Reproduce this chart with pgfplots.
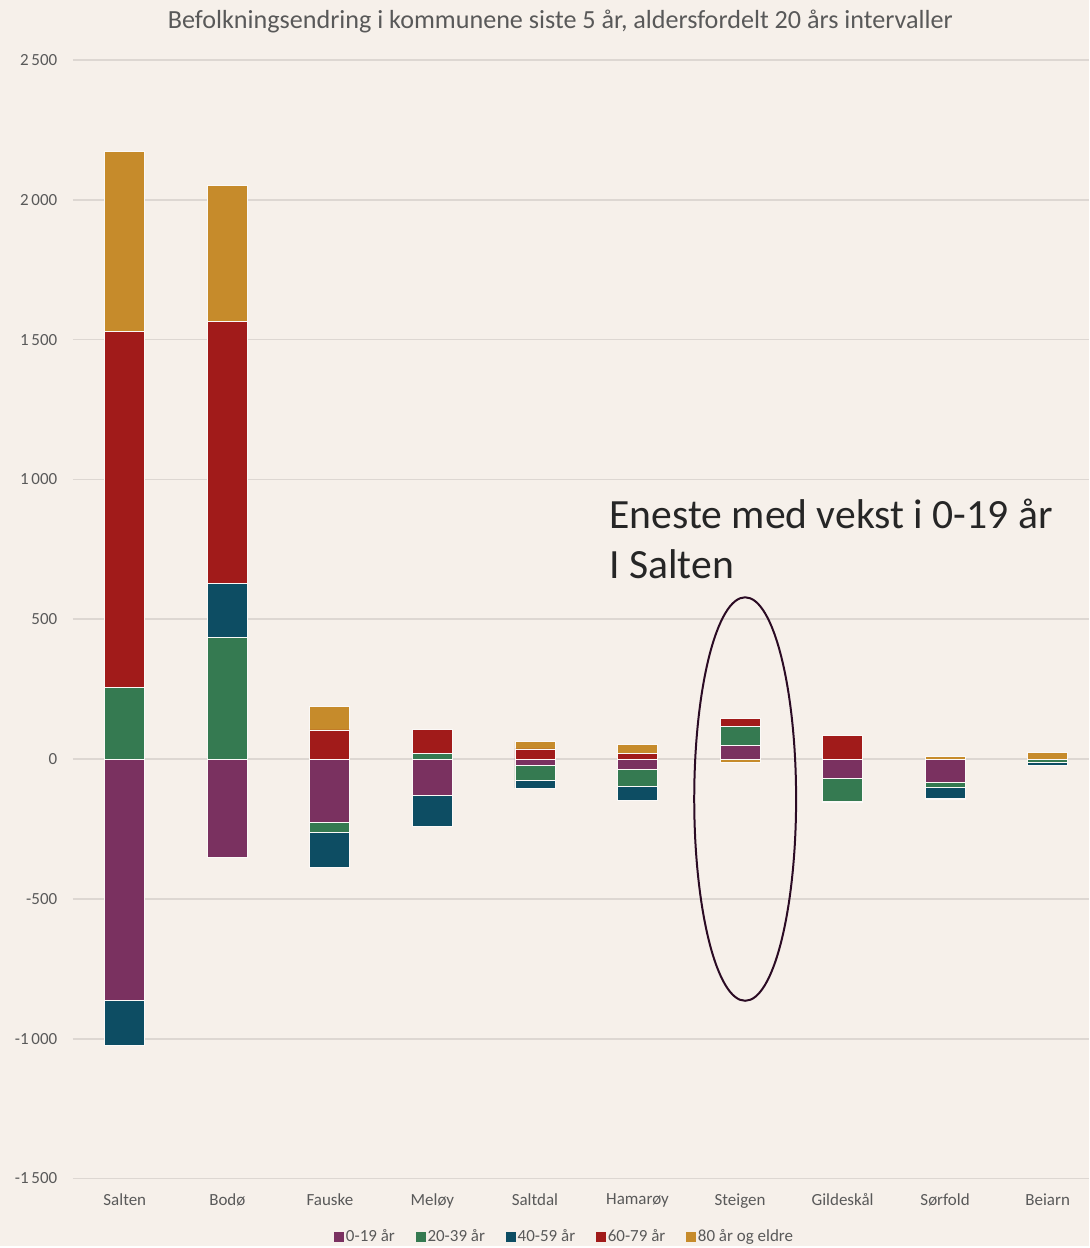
\documentclass[border=0pt]{standalone}
\usepackage{pgfplots}
\pgfplotsset{compat=1.18}
\usepackage{pgfplotstable}
\usepackage{fontspec}
\setmainfont{Carlito}
\usetikzlibrary{backgrounds}
\definecolor{bg}{HTML}{F6F0EA}
\definecolor{gridc}{HTML}{DDD7D2}
\definecolor{txt}{HTML}{595959}
\definecolor{cA}{HTML}{7A3160}
\definecolor{cB}{HTML}{357A51}
\definecolor{cC}{HTML}{0D4D63}
\definecolor{cD}{HTML}{A11B1A}
\definecolor{cE}{HTML}{C68B2B}
\definecolor{ell}{HTML}{2B0B24}

% positive parts (stacked upward)
\pgfplotstableread{
x a b c d e
0 0 257 0 1272 642
1 0 436 193 935 486
2 0 0 0 104 85
3 0 20 0 87 0
4 0 0 0 36 27
5 0 0 0 20 32
6 50 65 0 30 0
7 0 0 0 83 0
8 0 0 0 0 9
9 0 0 0 0 22
}\postab
% negative parts (stacked downward)
\pgfplotstableread{
x a b c d e
0 -864 0 -161 0 0
1 -350 0 0 0 0
2 -225 -36 -128 0 0
3 -129 0 -111 0 0
4 -24 -53 -27 0 0
5 -36 -62 -51 0 0
6 0 0 0 0 -12
7 -68 -83 0 0 -5
8 -83 -17 -39 -5 0
9 0 -12 -12 0 0
}\negtab

\pgfplotsset{
  base/.style={
    at={(0,0)}, anchor=south west,
    scale only axis, width=305.1pt, height=336pt,
    xmin=-0.506, xmax=9.4, ymin=-1500, ymax=2500,
    ybar stacked, bar width=0.39,
    clip=false,
    every axis plot/.append style={draw=white!60!bg, line width=0.25pt},
  }
}

\begin{document}
\begin{tikzpicture}[font=\fontsize{5.1pt}{6pt}\selectfont]
\begin{axis}[base,
  axis line style={draw=none},
  ymajorgrids, grid style={gridc, line width=0.5pt},
  ytick={-1500,-1000,-500,0,500,1000,1500,2000,2500},
  yticklabels={-1\,500,-1\,000,-500,0,500,1\,000,1\,500,2\,000,2\,500},
  xtick={0,...,9},
  xticklabels={Salten,Bodø,Fauske,Meløy,Saltdal,Hamarøy,Steigen,Gildeskål,Sørfold,Beiarn},
  major tick length=0pt,
  yticklabel style={anchor=east, inner sep=0pt, xshift=-4.5pt, text=txt},
  xticklabel style={anchor=north, inner sep=0pt, yshift=-4.3pt, text=txt},
  legend columns=5,
  legend style={at={(0.484,-0.0527)}, anchor=center, draw=none, fill=none,
    font=\fontsize{5.1pt}{6pt}\selectfont, text=txt,
    /tikz/every even column/.append style={column sep=5.6pt},
    inner sep=0pt, nodes={inner sep=0.6pt}},
  legend image code/.code={\fill[#1, draw=none] (0pt,-1.5pt) rectangle (3pt,1.5pt);},
]
\addplot[fill=cA] table[x=x,y=a]{\postab};
\addplot[fill=cB] table[x=x,y=b]{\postab};
\addplot[fill=cC] table[x=x,y=c]{\postab};
\addplot[fill=cD] table[x=x,y=d]{\postab};
\addplot[fill=cE] table[x=x,y=e]{\postab};
\legend{0-19 år,20-39 år,40-59 år,60-79 år,80 år og eldre}
\end{axis}
\begin{axis}[base, hide axis]
\addplot[fill=cA] table[x=x,y=a]{\negtab};
\addplot[fill=cB] table[x=x,y=b]{\negtab};
\addplot[fill=cC] table[x=x,y=c]{\negtab};
\addplot[fill=cD] table[x=x,y=d]{\negtab};
\addplot[fill=cE] table[x=x,y=e]{\negtab};
\draw[ell, line width=0.6pt] (axis cs:6.05,-143) ellipse [x radius=15.3pt, y radius=60.6pt];
\node[anchor=base west, inner sep=0pt, font=\fontsize{12.5pt}{15pt}\selectfont, text=black!85]
  at (axis cs:4.72,825) {Eneste med vekst i 0-19 år};
\node[anchor=base west, inner sep=0pt, font=\fontsize{12.5pt}{15pt}\selectfont, text=black!85]
  at (axis cs:4.72,646) {I Salten};
\end{axis}
\node[text=txt, font=\fontsize{7.85pt}{9pt}\selectfont, inner sep=0pt] at (146.4pt,347.4pt)
  {Befolkningsendring i kommunene siste 5 år, aldersfordelt 20 års intervaller};
\begin{pgfonlayer}{background}
\fill[bg] (-21.9pt,-20.4pt) rectangle (305.1pt,354pt);
\end{pgfonlayer}
\end{tikzpicture}
\end{document}
